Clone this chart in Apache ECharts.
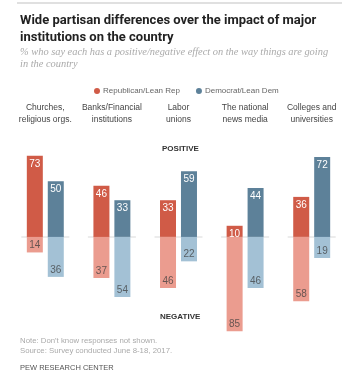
<!DOCTYPE html>
<html>
<head>
<meta charset="utf-8">
<script src="https://cdn.jsdelivr.net/npm/echarts@6/dist/echarts.min.js"></script>
<style>html,body{margin:0;padding:0;background:#fff;}#c{width:360px;height:380px;}</style>
</head>
<body>
<div id="c"></div>
<script>
var categories = ['Churches,\nreligious orgs.', 'Banks/Financial\ninstitutions', 'Labor\nunions', 'The national\nnews media', 'Colleges and\nuniversities'];
var repPositive = [73, 46, 33, 10, 36];
var repNegative = [14, 37, 46, 85, 58];
var demPositive = [50, 33, 59, 44, 72];
var demNegative = [36, 54, 22, 46, 19];
var zeroLine = [0, 0, 0, 0, 0];

var FONT = 'Liberation Sans, Arial, sans-serif';
var chart = echarts.init(document.getElementById('c'), null, {renderer: 'canvas'});

function neg(arr) { return arr.map(function (v) { return -v; }); }
function absFmt(p) { return Math.abs(p.value); }

var posLabel = {show: true, position: 'insideTop', distance: 3, color: '#fff', fontSize: 10, fontFamily: FONT, formatter: absFmt};
var negLabel = {show: true, position: 'insideBottom', distance: 2, color: 'rgba(60,60,60,0.75)', fontSize: 10, fontFamily: FONT, formatter: absFmt};

chart.setOption({
  animation: false,
  grid: {left: 12, right: 15, top: 148, height: 200},
  legend: {
    data: ['Republican/Lean Rep', 'Democrat/Lean Dem'],
    left: 89, top: 82,
    icon: 'circle', itemWidth: 6, itemHeight: 6, itemGap: 16,
    textStyle: {fontSize: 8, color: '#666', fontFamily: FONT, padding: [0, 0, 0, -2]}
  },
  xAxis: {
    type: 'category', data: categories, position: 'top',
    axisLine: {show: false}, axisTick: {show: false}, splitLine: {show: false},
    axisLabel: {margin: 22, fontSize: 8.5, lineHeight: 12, color: '#444', fontWeight: 500, fontFamily: FONT, interval: 0}
  },
  yAxis: {type: 'value', min: -100, max: 80, show: false, splitLine: {show: false}},
  series: [
    {type: 'scatter', data: zeroLine, symbol: 'rect', symbolSize: [48, 1], itemStyle: {color: '#cfcfcf'}, z: 1, silent: true, label: {show: false}},
    {name: 'Republican/Lean Rep', type: 'bar', stack: 'rep', data: repPositive, barWidth: 16, barGap: '31%', itemStyle: {color: '#d05b47'}, label: posLabel, z: 3},
    {name: 'Republican/Lean Rep Neg', type: 'bar', stack: 'rep', data: neg(repNegative), barWidth: 16, barGap: '31%', itemStyle: {color: '#eb9c8f'}, label: negLabel, z: 3},
    {name: 'Democrat/Lean Dem', type: 'bar', stack: 'dem', data: demPositive, barWidth: 16, barGap: '31%', itemStyle: {color: '#5d8199'}, label: posLabel, z: 3},
    {name: 'Democrat/Lean Dem Neg', type: 'bar', stack: 'dem', data: neg(demNegative), barWidth: 16, barGap: '31%', itemStyle: {color: '#a3c1d5'}, label: negLabel, z: 3}
  ],
  graphic: [
    {type: 'rect', left: 17, top: 2, shape: {width: 325, height: 2}, style: {fill: '#e0e0e0'}},
    {type: 'text', left: 20, top: 12, style: {text: 'Wide partisan differences over the impact of major\ninstitutions on the country', font: 'bold 13px Roboto, ' + FONT, fill: '#222', lineHeight: 17}},
    {type: 'text', left: 20, top: 46, style: {text: '% who say each has a positive/negative effect on the way things are going\nin the country', font: 'italic 10.4px Liberation Serif, Georgia, serif', fill: '#aaa', lineHeight: 12}},
    {type: 'text', left: 162, top: 145, style: {text: 'POSITIVE', font: 'bold 8px ' + FONT, fill: '#333'}},
    {type: 'text', left: 160, top: 313, style: {text: 'NEGATIVE', font: 'bold 8px ' + FONT, fill: '#333'}},
    {type: 'text', left: 20, top: 336, style: {text: "Note: Don't know responses not shown.\nSource: Survey conducted June 8-18, 2017.", font: '7.8px ' + FONT, fill: '#aaa', lineHeight: 10}},
    {type: 'text', left: 20, top: 364, style: {text: 'PEW RESEARCH CENTER', font: '7.5px ' + FONT, fill: '#555'}}
  ]
});
</script>
</body>
</html>
